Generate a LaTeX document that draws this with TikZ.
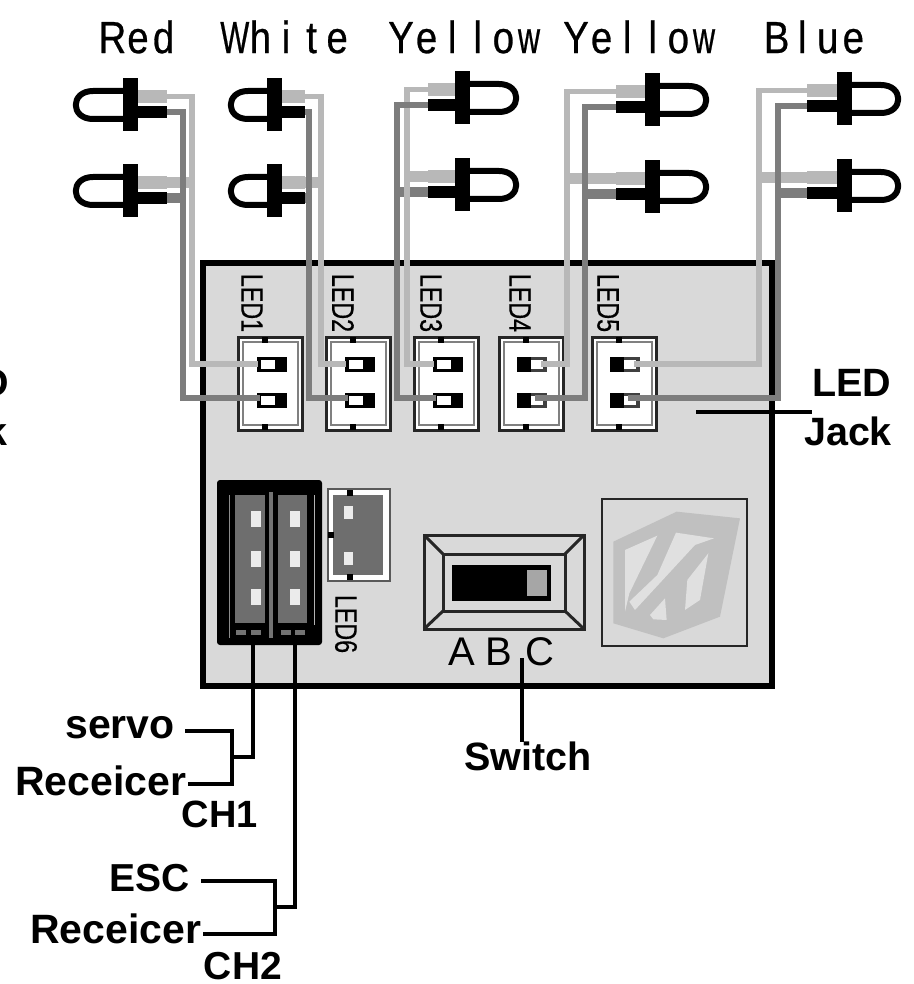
\documentclass[tikz,border=0pt]{standalone}
\usepackage{graphicx}
\usepackage{fontspec}
\setmainfont{Liberation Sans}
\newfontfamily\topfont[FakeStretch=0.85,FakeBold=0.6]{Liberation Sans}
\newfontfamily\silkfont[FakeStretch=0.75,FakeBold=0.5]{Liberation Sans}
\newcommand{\mc}[1]{\makebox[25.6pt][c]{#1}}
\newcommand{\nw}[1]{\scalebox{0.8}[1]{#1}}
\definecolor{boardc}{HTML}{D9D9D9}
\definecolor{wlight}{HTML}{B8B8B8}
\definecolor{wdark}{HTML}{7D7D7D}
\definecolor{chan}{HTML}{6E6E6E}
\definecolor{logoc}{HTML}{C0C0C0}
\definecolor{logob}{HTML}{E0E0E0}
\tikzset{
  every node/.style={outer sep=0pt},
  lightw/.style={draw=wlight,line width=5.5pt},
  darkw/.style={draw=wdark,line width=5.5pt},
  lightt/.style={draw=wlight,line width=11pt},
  darkt/.style={draw=wdark,line width=10pt},
  toplabel/.style={inner sep=0pt,font=\topfont\fontsize{45}{45}\selectfont},
  bigb/.style={inner sep=0pt,font=\bfseries\fontsize{39.5}{40}\selectfont},
  silk/.style={inner sep=0pt,rotate=-90,text=black,font=\silkfont\fontsize{31}{31}\selectfont},
  leader/.style={draw=black,line width=3.6pt},
  ledline/.style={draw=black,line width=6pt,line join=round},
}
% #1 name, #2 cx, #3 cy, #4 direction (1 = dome left, -1 = dome right), #5 leg length, #6 start of the dome's curve
\newcommand{\ledunit}[6]{%
  \begin{scope}[shift={(#2,#3)},xscale=#4]
    \draw[ledline] (-7,-14) -- (#6,-14) .. controls ({#6-23},-14) and ({#6-23},14) .. (#6,14) -- (-7,14);
    \fill[wlight] (7,-15) rectangle (#5,-2);
    \fill[black] (7,1) rectangle (#5,13);
    \fill[black] (-7.5,-26.5) rectangle (7.5,26.5);
    \coordinate (#1-g) at (#5,-8.5);
    \coordinate (#1-b) at (#5,7);
    \coordinate (#1-f) at (9,-8.5);
  \end{scope}}
% #1 name, #2 left x, #3 pin on (1 = open side left, 0 = open side right)
\newcommand{\plugunit}[3]{%
  \begin{scope}[shift={(#2,0)}]
    \draw[draw=black!85,line width=3pt,fill=white] (0,337) rectangle (64,430);
    \draw[draw=black!50,line width=1.5pt] (5,342) rectangle (60,425);
    \fill[black] (23.5,337) rectangle (29.5,343);
    \fill[black] (23.5,424) rectangle (29.5,430);
    \ifnum#3=1
      \fill[black] (37,357) rectangle (49,372);
      \draw[black,line width=3.5pt] (37,358.7) -- (21,358.7) -- (21,370.3) -- (37,370.3);
      \fill[black] (37,393) rectangle (49,408);
      \draw[black,line width=3.5pt] (37,394.7) -- (21,394.7) -- (21,406.3) -- (37,406.3);
      \coordinate (#1-a) at (20,364);
      \coordinate (#1-c) at (22,398);
    \else
      \fill[black] (18,357) rectangle (32,372);
      \draw[black!75,line width=3.5pt] (32,358.7) -- (46,358.7) -- (46,370.3) -- (32,370.3);
      \fill[black] (18,393) rectangle (32,408);
      \draw[black!75,line width=3.5pt] (32,394.7) -- (46,394.7) -- (46,406.3) -- (32,406.3);
      \coordinate (#1-a) at (42,364);
      \coordinate (#1-c) at (36,398);
    \fi
  \end{scope}}
\begin{document}
\begin{tikzpicture}[x=1pt,y=-1pt]
\useasboundingbox (0,0) rectangle (913,984);
\fill[white] (0,0) rectangle (913,984);

% top labels
\node[toplabel] (tRed) at (138,37) {\mc{R}\mc{e}\mc{d}};
\node[toplabel] (tWhite) at (286,37) {\mc{\nw{W}}\mc{h}\mc{i}\mc{t}\mc{e}};
\node[toplabel] (tY1) at (465,37) {\mc{Y}\mc{e}\mc{l}\mc{l}\mc{o}\mc{\nw{w}}};
\node[toplabel] (tY2) at (640,37) {\mc{Y}\mc{e}\mc{l}\mc{l}\mc{o}\mc{\nw{w}}};
\node[toplabel] (tBlue) at (815,37) {\mc{B}\mc{l}\mc{u}\mc{e}};

% board
\node[draw=black,line width=6pt,fill=boardc,minimum width=569pt,minimum height=423pt,inner sep=0pt,anchor=north west] (board) at (203,263) {};

% LEDs
\ledunit{r1}{130}{105}{1}{37}{-37}
\ledunit{r2}{130}{191}{1}{37}{-37}
\ledunit{w1}{274}{105}{1}{31}{-26}
\ledunit{w2}{274}{191}{1}{31}{-26}
\ledunit{ya1}{462}{98}{-1}{34}{-37}
\ledunit{ya2}{462}{185}{-1}{34}{-37}
\ledunit{yb1}{652}{100}{-1}{36}{-37}
\ledunit{yb2}{652}{187}{-1}{36}{-37}
\ledunit{b1}{844}{99}{-1}{37}{-37}
\ledunit{b2}{844}{186}{-1}{37}{-37}

% plugs
\plugunit{p1}{238}{1}
\plugunit{p2}{326}{1}
\plugunit{p3}{414}{1}
\plugunit{p4}{499}{0}
\plugunit{p5}{592}{0}

% silk labels
\node[silk] (s1) at (252,303) {LED1};
\node[silk] (s2) at (343,303) {LED2};
\node[silk] (s3) at (431,303) {LED3};
\node[silk] (s4) at (520,303) {LED4};
\node[silk] (s5) at (608,303) {LED5};
\node[silk] (s6) at (346,624) {LED6};

% x positions of the vertical wire runs
\coordinate (vr-l) at (192,0);   \coordinate (vr-d) at (183,0);
\coordinate (vw-l) at (321,0);   \coordinate (vw-d) at (309,0);
\coordinate (vya-l) at (407,0);  \coordinate (vya-d) at (397,0);
\coordinate (vyb-l) at (567,0);  \coordinate (vyb-d) at (585,0);
\coordinate (vb-l) at (759,0);   \coordinate (vb-d) at (778,0);

% lower LED branches
\draw[lightt] (r2-f) -- (r2-f -| vr-l);
\draw[darkt] (r2-b) -- (r2-b -| vr-d);
\draw[lightt] (w2-f) -- (w2-f -| vw-l);
\draw[darkt] (w2-b) -- (w2-b -| vw-d);
\draw[lightt] (ya2-f) -- (ya2-f -| vya-l);
\draw[darkt] (ya2-b) -- (ya2-b -| vya-d);
\draw[lightt] (yb2-f) -- (yb2-f -| vyb-l);
\draw[darkt] (yb2-b) -- (yb2-b -| vyb-d);
\draw[lightt] (b2-f) -- (b2-f -| vb-l);
\draw[darkt] (b2-b) -- (b2-b -| vb-d);

% wires
\draw[lightw] (r1-g) -- (r1-g -| vr-l) |- (p1-a);
\draw[darkw] (r1-b) -- (r1-b -| vr-d) |- (p1-c);
\draw[lightw] (w1-g) -- (w1-g -| vw-l) |- (p2-a);
\draw[darkw] (w1-b) -- (w1-b -| vw-d) |- (p2-c);
\draw[lightw] (ya1-g) -- (ya1-g -| vya-l) |- (p3-a);
\draw[darkw] (ya1-b) -- (ya1-b -| vya-d) |- (p3-c);
\draw[lightw] (yb1-g) -- (yb1-g -| vyb-l) |- (p4-a);
\draw[darkw] (yb1-b) -- (yb1-b -| vyb-d) |- (p4-c);
\draw[lightw] (b1-g) -- (b1-g -| vb-l) |- (p5-a);
\draw[darkw] (b1-b) -- (b1-b -| vb-d) |- (p5-c);

% receiver block
\node[fill=black,rounded corners=3pt,minimum width=105pt,minimum height=165pt,inner sep=0pt,anchor=north west] (block) at (217,480) {};
\fill[chan] (235,495) rectangle (265,623);
\fill[chan] (278,495) rectangle (307,623);
\fill[black!45] (228.5,495) rectangle (230,638);
\fill[black!55] (269,492) rectangle (273,638);
\fill[black!30] (313.5,495) rectangle (315,625);
\foreach \px in {256,295}{\foreach \py in {519,559,597}{\fill[white!92!black] (\px-5,\py-8) rectangle (\px+5,\py+8);}}
\foreach \px in {241,256,286,300}{\fill[black!55] (\px-5,630) rectangle (\px+5,635);}

% LED6 connector
\draw[draw=black!65,line width=2pt,fill=white] (328,489) rectangle (390,581);
\fill[chan] (333,495) rectangle (383,575);
\fill[black] (347,490) rectangle (353,496);
\fill[black] (347,574) rectangle (353,580);
\fill[black] (328,532) rectangle (334,538);
\fill[white!92!black] (344,506) rectangle (353,519);
\fill[white!92!black] (344,552) rectangle (353,565);

% switch
\node[draw=black!85,line width=3pt,fill=boardc,minimum width=160pt,minimum height=94pt,inner sep=0pt,anchor=north west] (sw) at (424,535) {};
\node[draw=black!85,line width=3pt,minimum width=122pt,minimum height=57pt,inner sep=0pt,anchor=north west] (swi) at (443,554) {};
\draw[draw=black!85,line width=3pt] (sw.north west) -- (swi.north west);
\draw[draw=black!85,line width=3pt] (sw.north east) -- (swi.north east);
\draw[draw=black!85,line width=3pt] (sw.south west) -- (swi.south west);
\draw[draw=black!85,line width=3pt] (sw.south east) -- (swi.south east);
\fill[black] (452,565) rectangle (551,601);
\fill[black!35] (527,570) rectangle (547,596);
\node[inner sep=0pt,font=\fontsize{40}{40}\selectfont] (la) at (462,652) {A};
\node[inner sep=0pt,font=\fontsize{40}{40}\selectfont] (lb) at (499,652) {B};
\node[inner sep=0pt,font=\fontsize{40}{40}\selectfont] (lc) at (540,652) {C};

% logo
\draw[draw=black!85,line width=2.8pt] (602,499) rectangle (747,646);
\begin{scope}[shift={(570,470)},x=0.3333pt,y=-0.3333pt]
\fill[logoc] (130,215) -- (320,125) -- (510,145) -- (450,440) -- (280,505) -- (130,460) -- cycle;
\fill[logob] (165,240) -- (262,197) -- (178,370) -- (165,425) -- cycle;
\fill[logob] (318,188) -- (432,205) -- (375,225) -- (195,420) -- (178,395) -- (262,315) -- cycle;
\fill[logob] (415,250) -- (390,390) -- (345,420) -- (352,330) -- cycle;
\fill[logob] (240,435) -- (285,385) -- (290,450) -- (250,448) -- cycle;
\end{scope}

% switch label
\node[bigb] (swl) at (528,756) {Switch};
\coordinate (swt) at (522,658);
\draw[leader] (swt) -- (swl.north -| swt);

% LED jack label
\node[bigb] (jl1) at (852,383) {LED};
\node[bigb] (jl2) at (848,431) {Jack};
\coordinate (jks) at (696,412);
\coordinate (jke) at (812,412);
\draw[leader] (jks) -- (jke);

% left cut-off label
\node[bigb,anchor=east] (xl1) at (9,383) {LED};
\node[bigb,anchor=east] (xl2) at (7,431) {Jack};

% receiver labels
\node[bigb,font=\bfseries\fontsize{41}{41}\selectfont] (ls) at (120,728) {servo};
\node[bigb,anchor=east,font=\bfseries\fontsize{41}{41}\selectfont] (lr1) at (186,781) {Receicer};
\node[bigb,font=\bfseries\fontsize{38}{38}\selectfont] (lc1) at (220,814) {CH1};
\node[bigb,font=\bfseries\fontsize{39}{39}\selectfont] (le) at (150,878) {ESC};
\node[bigb,anchor=east,font=\bfseries\fontsize{41}{41}\selectfont] (lr2) at (201,929) {Receicer};
\node[bigb,font=\bfseries\fontsize{39}{39}\selectfont] (lc2) at (243,966) {CH2};

% leader brackets
\coordinate (b1a) at (185,731);  \coordinate (b1b) at (232,731);
\coordinate (b1c) at (232,784);  \coordinate (b1d) at (188,784);
\coordinate (b1m) at (232,757);  \coordinate (b1e) at (253,757);
\coordinate (b1t) at (253,645);
\draw[leader,line join=miter] (b1a) -- (b1b) -- (b1c) -- (b1d);
\draw[leader,line join=miter] (b1m) -- (b1e) -- (b1t);
\coordinate (b2a) at (201,881);  \coordinate (b2b) at (275,881);
\coordinate (b2c) at (275,934);  \coordinate (b2d) at (203,934);
\coordinate (b2m) at (275,907);  \coordinate (b2e) at (295,907);
\coordinate (b2t) at (295,645);
\draw[leader,line join=miter] (b2a) -- (b2b) -- (b2c) -- (b2d);
\draw[leader,line join=miter] (b2m) -- (b2e) -- (b2t);
\end{tikzpicture}
\end{document}
